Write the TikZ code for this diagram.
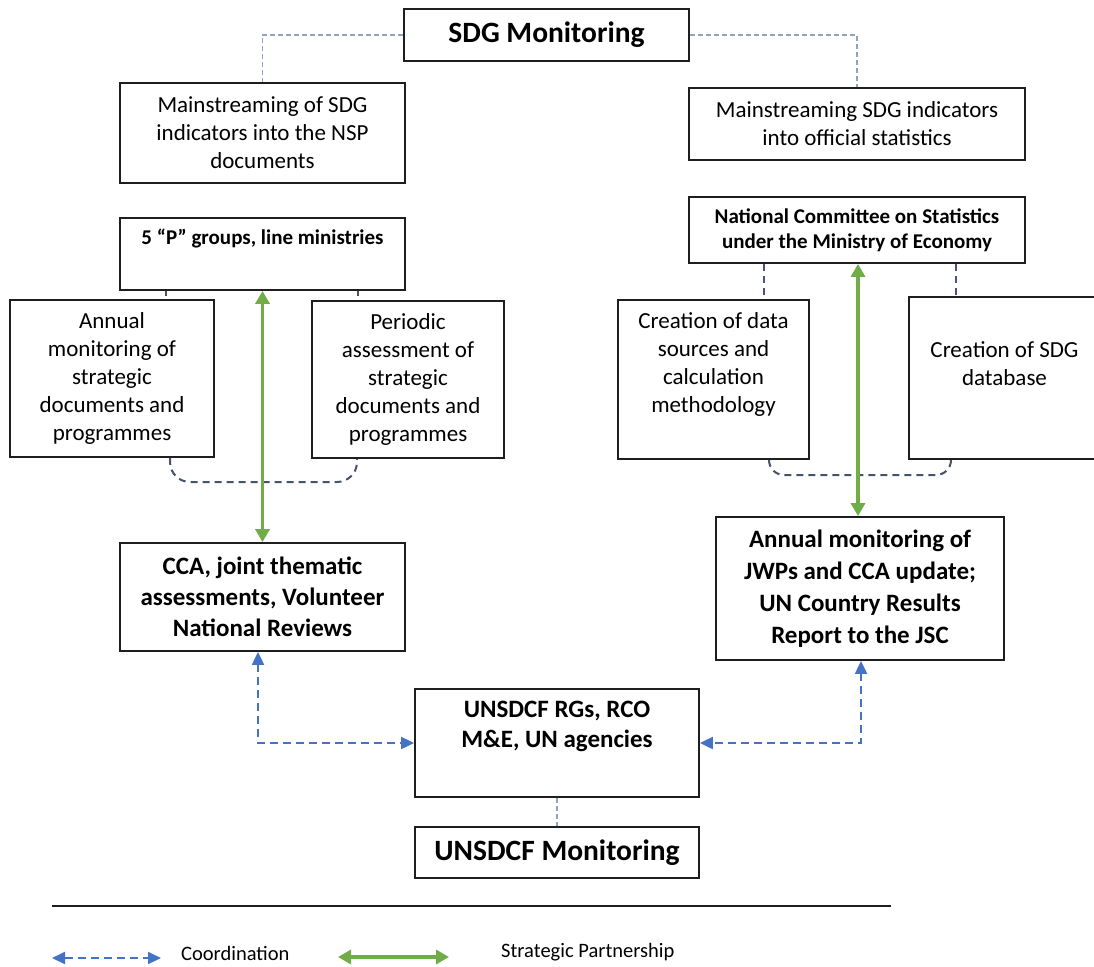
\documentclass[tikz,border=0pt]{standalone}
\usepackage{fontspec}
\setmainfont{Carlito}
\usetikzlibrary{arrows.meta}
\definecolor{boxline}{HTML}{1E1E1E}
\definecolor{thindash}{HTML}{8EA4C2}
\definecolor{darkdash}{HTML}{44546A}
\definecolor{coordblue}{HTML}{4472C4}
\definecolor{partgreen}{HTML}{70AD47}
\begin{document}
\begin{tikzpicture}[x=1pt,y=-1pt,
  box/.style={draw=boxline, line width=1.8pt, rectangle, inner sep=0pt, align=center},
  regtext/.style={font=\fontsize{23}{28}\selectfont},
  boldsmall/.style={font=\fontsize{21}{25}\selectfont\bfseries},
  boldmid/.style={font=\fontsize{25}{31}\selectfont\bfseries},
  boldbig/.style={font=\fontsize{29.5}{35}\selectfont\bfseries},
  plain/.style={inner sep=0pt, align=center},
  thinlink/.style={draw=thindash, line width=1.2pt, dash pattern=on 5pt off 3pt},
  darklink/.style={draw=darkdash, line width=2pt, dash pattern=on 7pt off 5pt},
  coordarrow/.style={draw=coordblue, line width=2pt, dash pattern=on 8pt off 5pt,
    {Triangle[length=13pt,width=12pt]}-{Triangle[length=13pt,width=12pt]}},
  partarrow/.style={draw=partgreen, line width=3.2pt,
    {Triangle[length=13pt,width=14pt]}-{Triangle[length=13pt,width=14pt]}}
]
\clip (0,0) rectangle (1094,966);
\fill[white] (0,0) rectangle (1094,966);

% top
\node[box, boldbig, minimum width=285pt, minimum height=52pt] (sdg) at (546.5,35) {SDG Monitoring};
\node[box, regtext, minimum width=285pt, minimum height=100pt] (ms1) at (262.5,133) {Mainstreaming of SDG\\indicators into the NSP\\documents};
\node[box, regtext, minimum width=336pt, minimum height=72pt] (ms2) at (857,124) {Mainstreaming SDG indicators\\into official statistics};

% left column
\node[box, minimum width=285pt, minimum height=72pt] (p5) at (262.5,254) {};
\node[plain, boldsmall] (p5t) at (262.5,239) {5 “P” groups, line ministries};
\node[box, regtext, minimum width=204pt, minimum height=157pt] (ann) at (112,378.5) {Annual\\monitoring of\\strategic\\documents and\\programmes};
\node[box, regtext, minimum width=192pt, minimum height=157pt] (per) at (408,379.5) {Periodic\\assessment of\\strategic\\documents and\\programmes};
\node[box, boldmid, minimum width=285pt, minimum height=108pt] (cca) at (262.5,597) {CCA, joint thematic\\assessments, Volunteer\\National Reviews};

% right column
\node[box, boldsmall, minimum width=336pt, minimum height=66pt] (nc) at (857,230) {National Committee on Statistics\\under the Ministry of Economy};
\node[box, minimum width=191pt, minimum height=159pt] (cds) at (713.5,379.5) {};
\node[plain, regtext] (cdst) at (713.5,364) {Creation of data\\sources and\\calculation\\methodology};
\node[box, minimum width=191pt, minimum height=162pt] (cdb) at (1004.5,378) {};
\node[plain, regtext] (cdbt) at (1004.5,364) {Creation of SDG\\database};
\node[box, font=\fontsize{25}{32}\selectfont\bfseries, minimum width=288pt, minimum height=143pt] (jwp) at (860,588.5) {Annual monitoring of\\JWPs and CCA update;\\UN Country Results\\Report to the JSC};

% bottom
\node[box, minimum width=284pt, minimum height=108pt] (rgs) at (557,743) {};
\node[plain, font=\fontsize{25}{30}\selectfont\bfseries] (rgst) at (557,726) {UNSDCF RGs, RCO\\M\&E, UN agencies};
\node[box, boldbig, minimum width=284pt, minimum height=51pt] (mon) at (557,852.5) {UNSDCF Monitoring};

% thin dashed links
\draw[thinlink] (sdg.west) -| (ms1.north);
\draw[thinlink] (sdg.east) -| (ms2.north);
\draw[thinlink] (rgs.south) -- (mon.north);

% dark dashed links
\draw[darkdash, line width=1.6pt, dash pattern=on 5pt off 6pt] (p5.south -| 166,0) -- (ann.north -| 166,0);
\draw[darkdash, line width=1.6pt, dash pattern=on 5pt off 6pt] (p5.south -| 358,0) -- (per.north -| 358,0);
\draw[darklink] (nc.south -| 764,0) -- (cds.north -| 764,0);
\draw[darklink] (nc.south -| 956,0) -- (cdb.north -| 956,0);
\draw[darklink, rounded corners=20pt] (ann.south -| 170,0) -- (170,482) -- (357,482) -- (per.south -| 357,0);
\draw[darklink, rounded corners=15pt] (cds.south -| 769,0) -- (769,475) -- (951,475) -- (cdb.south -| 951,0);

% strategic partnership
\draw[partarrow] (p5.south) -- (cca.north);
\draw[partarrow] (nc.south -| 858,0) -- (jwp.north -| 858,0);

% coordination
\draw[coordarrow] (cca.south -| 258,0) |- (rgs.west);
\draw[coordarrow] (jwp.south -| 861,0) |- (rgs.east);

% legend
\coordinate (lineA) at (52,906);
\coordinate (lineB) at (891,906);
\draw[boxline, line width=1.8pt] (lineA) -- (lineB);
\coordinate (cA) at (52,958);
\coordinate (cB) at (161,958);
\draw[coordarrow] (cA) -- (cB);
\node[plain, anchor=west, font=\fontsize{20.5}{24}\selectfont] (coordlabel) at (181,953) {Coordination};
\coordinate (gA) at (338,957);
\coordinate (gB) at (449,957);
\draw[partarrow] (gA) -- (gB);
\node[plain, anchor=west, font=\fontsize{20.5}{24}\selectfont] (partlabel) at (501,952) {Strategic Partnership};
\end{tikzpicture}
\end{document}
